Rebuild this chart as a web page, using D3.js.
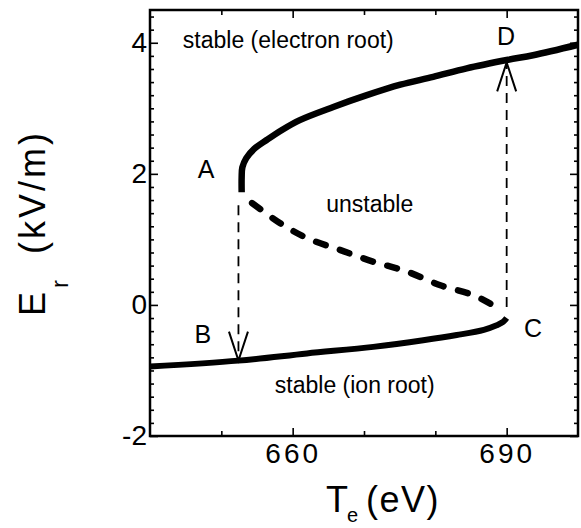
<!DOCTYPE html>
<html lang="en">
<head>
  <meta charset="UTF-8">
  <title>Er vs Te bifurcation</title>
  <style>
  body { margin: 0; background: #fff; }
  svg { display: block; font-family: "Liberation Sans", Arial, Helvetica, sans-serif; }
  .tick line { stroke: #000; stroke-width: 1.6px; }
  .tick text { fill: #000; }
  </style>
</head>
<body>
  <script src="https://cdn.jsdelivr.net/npm/d3@7"></script>
  <script type="text/javascript">

    // electron root (stable, upper)
    var upperT = [652.85, 652.85, 652.95, 653.5, 654.6, 656.4, 658.5, 661.0, 665.7, 670.4, 675.1, 679.7, 684.4, 690.2, 693.7, 700];
    var upperE = [1.72, 1.95, 2.10, 2.24, 2.38, 2.52, 2.67, 2.82, 3.02, 3.20, 3.36, 3.48, 3.61, 3.74, 3.81, 3.97];

    // ion root (stable, lower)
    var lowerT = [640, 652.4, 662.0, 671.3, 678.3, 683.0, 686.8, 688.6, 689.5, 690.0];
    var lowerE = [-0.94, -0.85, -0.74, -0.64, -0.54, -0.46, -0.38, -0.31, -0.26, -0.20];

    // unstable branch (dashed)
    var unstableT = [654.0, 658.2, 662.0, 666.6, 671.3, 676.0, 680.7, 685.3, 687.7, 689.1];
    var unstableE = [1.58, 1.25, 1.02, 0.84, 0.66, 0.51, 0.30, 0.15, 0.02, -0.07];

    // transitions A->B and C->D
    var jumpT = [652.4, 690.0];
    var jumpFrom = [1.52, -0.03];
    var jumpTo = [-0.85, 3.70];

    var xMajor = [660, 690];
    var xMinor = [650, 670, 680];
    var yMajor = [-2, 0, 2, 4];
    var labels = ["stable (electron root)", "A", "D", "unstable", "B", "C", "stable (ion root)"];

    var width = 581;
    var height = 528;
    var pLeft = 150, pRight = 578, pTop = 10, pBottom = 436;

    var svg = d3.select("body")
        .append("svg")
          .attr("width", width)
          .attr("height", height);

    var x = d3.scaleLinear().domain([640, 700]).range([pLeft, pRight]);
    var y = d3.scaleLinear().domain([-2, 4.5]).range([pBottom, pTop]);

    var yMinor = d3.range(-2, 4.45, 0.2).filter(function(v){
      return yMajor.indexOf(Math.round(v * 10) / 10) < 0;
    });

    function zip(a, b){ return a.map(function(v, i){ return [v, b[i]]; }); }

    // ticks, all pointing inward
    function ticks(axis, tr, values, size, labelled){
      var g = svg.append("g")
          .attr("transform", tr)
          .call(axis.tickValues(values).tickSize(-size).tickPadding(labelled ? 7 : 0)
                .tickFormat(labelled ? function(d){ return String(d); } : ""));
      g.select(".domain").remove();
      return g;
    }

    var xb = ticks(d3.axisBottom(x), "translate(0," + pBottom + ")", xMajor, 8, true);
    xb.selectAll("text").attr("font-size", 28).attr("letter-spacing", 3);
    ticks(d3.axisBottom(x), "translate(0," + pBottom + ")", xMinor, 5, false);
    ticks(d3.axisTop(x), "translate(0," + pTop + ")", xMajor, 8, false);
    ticks(d3.axisTop(x), "translate(0," + pTop + ")", xMinor, 5, false);

    var yl = ticks(d3.axisLeft(y), "translate(" + pLeft + ",0)", yMajor, 8, true);
    yl.selectAll("text").attr("font-size", 28).attr("dx", 4);
    ticks(d3.axisLeft(y), "translate(" + pLeft + ",0)", yMinor, 4, false);
    ticks(d3.axisRight(y), "translate(" + pRight + ",0)", yMajor, 8, false);
    ticks(d3.axisRight(y), "translate(" + pRight + ",0)", yMinor, 4, false);

    // frame
    svg.append("rect")
        .attr("x", pLeft).attr("y", pTop)
        .attr("width", pRight - pLeft).attr("height", pBottom - pTop)
        .attr("fill", "none")
        .attr("stroke", "#000")
        .attr("stroke-width", 2.5);

    var line = d3.line()
        .x(function(d){ return x(d[0]); })
        .y(function(d){ return y(d[1]); })
        .curve(d3.curveCatmullRom);

    svg.append("path")
        .datum(zip(upperT, upperE))
        .attr("d", line)
        .attr("fill", "none").attr("stroke", "#000").attr("stroke-width", 6.5);

    svg.append("path")
        .datum(zip(lowerT, lowerE))
        .attr("d", line)
        .attr("fill", "none").attr("stroke", "#000").attr("stroke-width", 6);

    svg.append("path")
        .datum(zip(unstableT, unstableE))
        .attr("d", line)
        .attr("fill", "none").attr("stroke", "#000").attr("stroke-width", 6.5)
        .attr("stroke-linecap", "round")
        .attr("stroke-dasharray", "10,15")
        .attr("stroke-dashoffset", -3);

    // vertical jumps with open arrowheads
    jumpT.forEach(function(t, i){
      svg.append("line")
          .attr("x1", x(t)).attr("x2", x(t))
          .attr("y1", y(jumpFrom[i])).attr("y2", y(jumpTo[i]))
          .attr("stroke", "#000").attr("stroke-width", 1.8)
          .attr("stroke-dasharray", "10,7");
      var tipX = x(t), tipY = y(jumpTo[i]);
      var dir = jumpTo[i] < jumpFrom[i] ? -1 : 1;
      svg.append("path")
          .attr("d", "M" + (tipX - 9.5) + "," + (tipY + dir * 29) + "L" + tipX + "," + tipY +
                     "L" + (tipX + 9.5) + "," + (tipY + dir * 29))
          .attr("fill", "none").attr("stroke", "#000").attr("stroke-width", 2);
    });

    // annotations
    var anchors = [[644.6, 3.92, "start", 23], [647.85, 1.94, "middle", 25], [689.9, 3.97, "middle", 25],
                   [670.8, 1.42, "middle", 23], [647.4, -0.58, "middle", 25], [693.7, -0.49, "middle", 25],
                   [668.7, -1.34, "middle", 23]];
    svg.append("g")
      .selectAll("text")
      .data(labels)
      .enter()
      .append("text")
        .attr("x", function(d, i){ return x(anchors[i][0]); })
        .attr("y", function(d, i){ return y(anchors[i][1]); })
        .attr("text-anchor", function(d, i){ return anchors[i][2]; })
        .attr("font-size", function(d, i){ return anchors[i][3]; })
        .text(function(d){ return d; });

    // x axis title: T_e (eV)
    var xt = svg.append("text").attr("font-size", 36).attr("y", 512);
    xt.append("tspan").attr("x", 326).text("T");
    xt.append("tspan").attr("x", 347).attr("y", 522).attr("font-size", 20).text("e");
    xt.append("tspan").attr("x", 366).attr("y", 512).attr("letter-spacing", 1.5).text("(eV)");

    // y axis title: E_r (kV/m)
    var yt = svg.append("text").attr("font-size", 36)
        .attr("transform", "translate(45,316) rotate(-90)");
    yt.append("tspan").attr("x", 0).attr("y", 0).text("E");
    yt.append("tspan").attr("x", 28).attr("y", 23).attr("font-size", 24).text("r");
    yt.append("tspan").attr("x", 62).attr("y", 0).attr("letter-spacing", 3).text("(kV/m)");
  </script>
</body>
</html>
